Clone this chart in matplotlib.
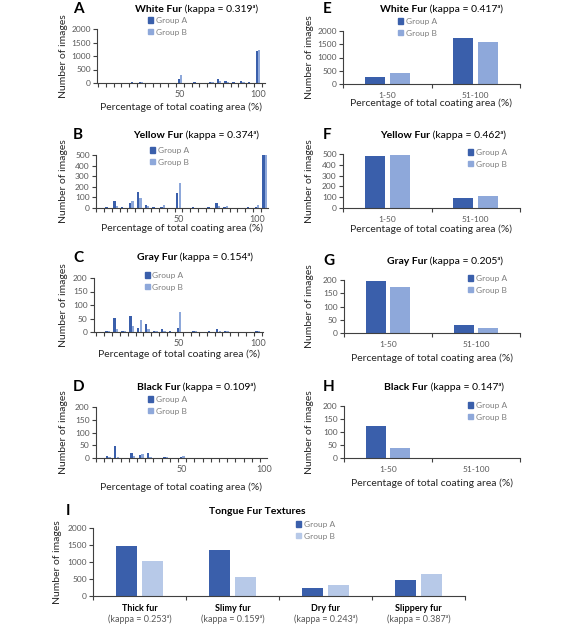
import numpy as np
import matplotlib
matplotlib.use('Agg')
import matplotlib.pyplot as plt
from matplotlib.patches import Patch

plt.rcParams['font.family'] = ['Lato', 'DejaVu Sans']

W, H = 578, 631
COLOR_A = '#3A5FAB'
COLOR_B = '#8EA8DA'
COLOR_B_LIGHT = '#B7C9E8'
AXIS_COLOR = '#404040'
TEXT_GRAY = '#595959'

# ---- left column: number of images per coating percentage ----
PCT = [5, 10, 15, 20, 25, 30, 35, 40, 45, 50, 55, 60, 65, 70, 75, 80, 85, 90, 95, 100]
WHITE_A = [10, 15, 15, 20, 35, 15, 15, 10, 15, 150, 10, 20, 15, 40, 160, 80, 20, 80, 20, 1180]
WHITE_B = [5, 10, 10, 15, 25, 10, 10, 15, 10, 300, 15, 10, 10, 30, 90, 50, 15, 30, 10, 1240]

YELLOW_PCT = PCT + [105]
YELLOW_A = [8, 62, 5, 50, 155, 25, 5, 10, 3, 140, 3, 5, 3, 8, 45, 5, 3, 3, 5, 10, 505]
YELLOW_B = [3, 15, 3, 62, 94, 20, 3, 30, 3, 235, 3, 3, 3, 3, 15, 15, 3, 3, 3, 30, 500]

GRAY_A = [3, 52, 5, 59, 15, 28, 3, 12, 2, 15, 1, 3, 1, 2, 10, 3, 1, 1, 1, 5]
GRAY_B = [2, 12, 3, 22, 44, 10, 2, 4, 1, 74, 1, 2, 1, 1, 5, 2, 1, 1, 1, 3]

BLACK_A = [8, 49, 0, 20, 10, 20, 0, 3, 0, 3, 0, 0, 0, 0, 0, 0, 0, 0, 0, 0]
BLACK_B = [3, 5, 0, 8, 15, 5, 0, 2, 0, 6, 0, 0, 0, 0, 0, 0, 0, 0, 0, 0]

# ---- right column: grouped into two ranges ----
RANGES = ['1-50', '51-100']
WHITE_RANGE_A = [280, 1720]
WHITE_RANGE_B = [415, 1570]
YELLOW_RANGE_A = [480, 90]
YELLOW_RANGE_B = [487, 113]
GRAY_RANGE_A = [197, 29]
GRAY_RANGE_B = [174, 19]
BLACK_RANGE_A = [125, 0]
BLACK_RANGE_B = [38, 0]

# ---- bottom: textures ----
TEXTURES = ['Thick fur', 'Slimy fur', 'Dry fur', 'Slippery fur']
TEXTURE_KAPPA = ['0.253', '0.159', '0.243', '0.387']
TEXTURE_A = [1480, 1350, 235, 470]
TEXTURE_B = [1020, 570, 315, 645]

XLABEL = 'Percentage of total coating area (%)'
YLABEL = 'Number of images'


def add_ax(fig, left, top, right, bottom):
    return fig.add_axes([left / W, 1 - bottom / H, (right - left) / W, (bottom - top) / H])


def ftext(fig, x, y, s, **kw):
    return fig.text(x / W, 1 - y / H, s, **kw)


def style_axes(ax, ymax, ystep):
    for side in ('top', 'right'):
        ax.spines[side].set_visible(False)
    for side in ('left', 'bottom'):
        ax.spines[side].set_color(AXIS_COLOR)
        ax.spines[side].set_linewidth(0.8)
    ax.set_ylim(0, ymax)
    ax.set_yticks(np.arange(0, ymax + 1, ystep))
    ax.tick_params(axis='y', direction='out', length=3, width=0.8, color=AXIS_COLOR,
                   labelsize=6, labelcolor=TEXT_GRAY, pad=1.5)


def title(fig, ax, x, y, bold, rest):
    t = ftext(fig, x, y, bold, fontweight='bold', fontsize=7.5, va='center', ha='left')
    if rest:
        ax.annotate(rest, xy=(1, 0), xycoords=t, va='bottom', ha='left',
                    fontsize=7.5, annotation_clip=False)


def legend(fig, ax, x, y, color_b):
    handles = [Patch(color=COLOR_A, label='Group A'), Patch(color=color_b, label='Group B')]
    ax.legend(handles=handles, loc='upper left', bbox_to_anchor=(x / W, 1 - y / H),
              bbox_transform=fig.transFigure, frameon=False, fontsize=6,
              labelcolor='#7f7f7f', handlelength=0.6, handleheight=0.6,
              handletextpad=0.3, labelspacing=0.55, borderpad=0, borderaxespad=0)


def pct_panel(ax, pos, va, vb, xlim, ymax, ystep):
    pos = np.asarray(pos)
    ax.bar(pos - 0.8, va, width=1.5, color=COLOR_A)
    ax.bar(pos + 0.8, vb, width=1.5, color=COLOR_B)
    style_axes(ax, ymax, ystep)
    ax.set_xlim(*xlim)
    ax.set_xticks([50, 100])
    ax.set_xticks(np.arange(-2.5, xlim[1], 5), minor=True)
    ax.tick_params(axis='x', which='major', length=0, labelsize=6.5,
                   labelcolor=TEXT_GRAY, pad=5)
    ax.tick_params(axis='x', which='minor', direction='out', length=3, width=0.8,
                   color=AXIS_COLOR)


def cat_panel(ax, labels, va, vb, ymax, ystep, color_b):
    x = np.arange(len(labels))
    ax.bar(x - 0.14, va, width=0.226, color=COLOR_A)
    ax.bar(x + 0.14, vb, width=0.226, color=color_b)
    style_axes(ax, ymax, ystep)
    ax.set_xlim(-0.5, len(labels) - 0.5)
    ax.set_xticks(x, labels)
    ax.set_xticks(np.arange(-0.5, len(labels), 1), minor=True)
    ax.tick_params(axis='x', which='major', length=0, labelsize=6,
                   labelcolor=TEXT_GRAY, pad=6)
    ax.tick_params(axis='x', which='minor', direction='out', length=3, width=0.8,
                   color=AXIS_COLOR)


fig = plt.figure(figsize=(W / 100, H / 100), dpi=100)
fig.patch.set_facecolor('white')

# left column panels: (letter, name, kappa, axes box, xlim, positions, A, B, ymax, step, legend xy, title x, xlabel y)
left_panels = [
    ('A', 'White Fur', '0.319', (97, 29, 265, 83), (-3.2, 104.5), PCT, WHITE_A, WHITE_B,
     2000, 500, (148, 17), 135, 107),
    ('B', 'Yellow Fur', '0.374', (96, 155, 268, 208), (-1.9, 107), YELLOW_PCT, YELLOW_A,
     YELLOW_B, 500, 100, (150, 147), 133, 228),
    ('C', 'Gray Fur', '0.154', (94, 278, 263, 332), (-3.8, 103.2), PCT, GRAY_A, GRAY_B,
     200, 50, (145, 272), 137, 354),
    ('D', 'Black Fur', '0.109', (96, 407, 267, 458), (-2.4, 101.8), PCT, BLACK_A, BLACK_B,
     200, 50, (148, 396), 137, 487),
]
for letter, name, kappa, box, xlim, pos, va, vb, ymax, step, leg, tx, xly in left_panels:
    ax = add_ax(fig, *box)
    pct_panel(ax, pos, va, vb, xlim, ymax, step)
    legend(fig, ax, leg[0], leg[1], COLOR_B)
    top = box[1]
    title(fig, ax, tx, top - 20, name, ' (kappa = %s\u1d43)' % kappa)
    ftext(fig, 73, top - 20, letter, fontsize=11, fontweight='bold', va='center')
    ftext(fig, (box[0] + box[2]) / 2, xly, XLABEL, fontsize=7.5, ha='center', va='center',
          color='#262626')
    ftext(fig, 64, (box[1] + box[3]) / 2, YLABEL, fontsize=7.5, rotation=90, ha='center',
          va='center', color='#262626')

right_panels = [
    ('E', 'White Fur', '0.417', (343, 31, 520, 84), WHITE_RANGE_A, WHITE_RANGE_B,
     2000, 500, (398, 18), 380, 103),
    ('F', 'Yellow Fur', '0.462', (343, 154, 520, 208), YELLOW_RANGE_A, YELLOW_RANGE_B,
     500, 100, (468, 149), 380, 229),
    ('G', 'Gray Fur', '0.205', (344, 280, 520, 333), GRAY_RANGE_A, GRAY_RANGE_B,
     200, 50, (468, 275), 387, 358),
    ('H', 'Black Fur', '0.147', (344, 406, 520, 458), BLACK_RANGE_A, BLACK_RANGE_B,
     200, 50, (468, 402), 384, 483),
]
for letter, name, kappa, box, va, vb, ymax, step, leg, tx, xly in right_panels:
    ax = add_ax(fig, *box)
    cat_panel(ax, RANGES, va, vb, ymax, step, COLOR_B)
    legend(fig, ax, leg[0], leg[1], COLOR_B)
    top = box[1]
    ty = 9 if letter == 'E' else top - 19
    title(fig, ax, tx, ty, name, ' (kappa = %s\u1d43)' % kappa)
    ftext(fig, 323, ty, letter, fontsize=11, fontweight='bold', va='center')
    ftext(fig, (box[0] + box[2]) / 2, xly, XLABEL, fontsize=7.5, ha='center', va='center',
          color='#262626')
    ftext(fig, 309, (box[1] + box[3]) / 2, YLABEL, fontsize=7.5, rotation=90, ha='center',
          va='center', color='#262626')

# panel I
box = (93, 528, 465, 596)
ax = add_ax(fig, *box)
cat_panel(ax, TEXTURES, TEXTURE_A, TEXTURE_B, 2000, 500, COLOR_B_LIGHT)
ax.set_xticklabels([''] * len(TEXTURES))
legend(fig, ax, 296, 521, COLOR_B_LIGHT)
ftext(fig, 257, 511, 'Tongue Fur Textures', fontsize=7.5, fontweight='bold', ha='center',
      va='center')
ftext(fig, 66, 511, 'I', fontsize=11, fontweight='bold', va='center')
ftext(fig, 58, (box[1] + box[3]) / 2, YLABEL, fontsize=7.5, rotation=90, ha='center',
      va='center', color='#262626')
for i, (name, kappa) in enumerate(zip(TEXTURES, TEXTURE_KAPPA)):
    ax.text(i, -0.18, name, transform=ax.get_xaxis_transform(), ha='center', va='center',
            fontsize=6.5, fontweight='bold')
    ax.text(i, -0.34, '(kappa = %s\u1d43)' % kappa, transform=ax.get_xaxis_transform(),
            ha='center', va='center', fontsize=6.5, color=TEXT_GRAY)

fig.savefig('out.png', dpi=100)
